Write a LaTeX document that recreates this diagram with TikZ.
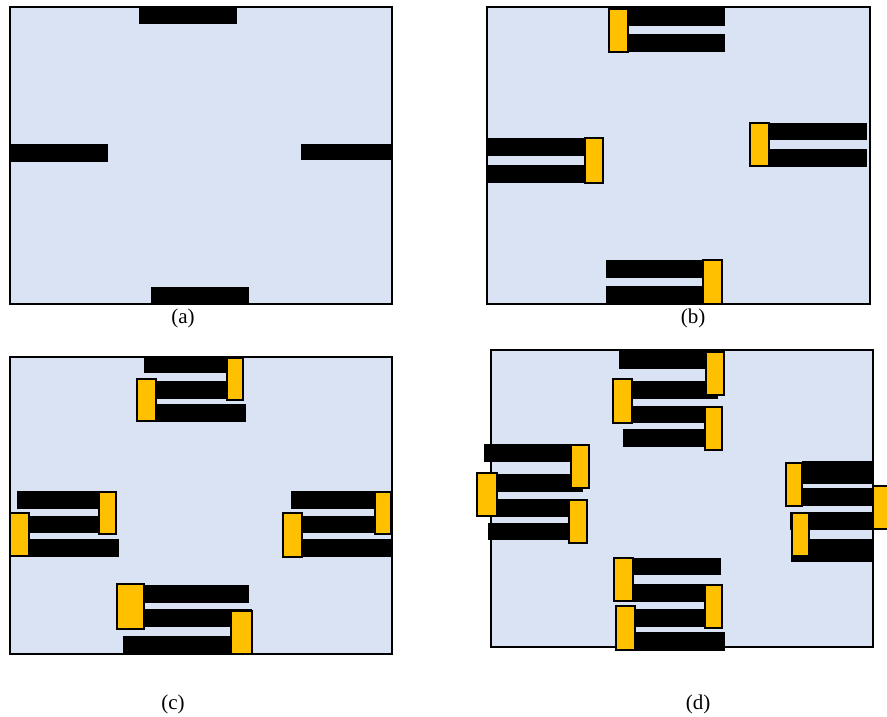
\documentclass[tikz,border=0pt]{standalone}
\usepackage{fontspec}
\setmainfont{Liberation Serif}
\definecolor{boardblue}{HTML}{DAE3F3}
\definecolor{padyellow}{HTML}{FFC000}
\tikzset{
  board/.style={draw=black, fill=boardblue, line width=1.6pt},
  bar/.style={fill=black},
  pad/.style={draw=black, fill=padyellow, line width=1.2pt},
  caption/.style={font=\fontsize{21}{24}\selectfont, inner sep=0pt}
}

\begin{document}
\begin{tikzpicture}[x=1pt, y=-1pt]
    \useasboundingbox (0,0) rectangle (887,717);
    % (a) bare board
    \draw[board] (10,7) rectangle (392,304);
    \foreach \xa/\ya/\xb/\yb in {139/7/237/24, 10/144/108/162, 301/144/392/160, 151/287/249/305}
      \fill[bar] (\xa,\ya) rectangle (\xb,\yb);
    \node[caption] (capa) at (183,318) {(a)};
    % (b) one pad per port
    \draw[board] (487,7) rectangle (870,304);
    \foreach \xa/\ya/\xb/\yb in {628/7/725/26, 628/34/725/52,
        487/138/585/156, 487/165/585/183,
        769/123/867/140, 769/149/867/167,
        606/260/703/278, 606/286/703/304}
      \fill[bar] (\xa,\ya) rectangle (\xb,\yb);
    \foreach \xa/\ya/\xb/\yb in {609/9/628/52, 585/138/603/183, 750/123/769/166, 703/260/722/304}
      \draw[pad] (\xa,\ya) rectangle (\xb,\yb);
    \node[caption] (capb) at (693,318) {(b)};
    % (c) two pads per port
    \draw[board] (10,357) rectangle (392,654);
    \foreach \xa/\ya/\xb/\yb in {144/357/227/373, 155/381/244/399, 156/404/246/422,
        17/491/100/509, 28/516/117/533, 29/539/119/557,
        291/491/376/509, 302/516/392/533, 302/539/392/557,
        144/585/249/603, 144/609/252/627, 123/636/231/654}
      \fill[bar] (\xa,\ya) rectangle (\xb,\yb);
    \foreach \xa/\ya/\xb/\yb in {227/358/243/400, 137/379/156/421,
        99/492/116/534, 10/513/29/556,
        375/492/391/534, 283/513/302/557,
        117/584/144/629, 231/611/252/654}
      \draw[pad] (\xa,\ya) rectangle (\xb,\yb);
    \node[caption] (capc) at (173,704) {(c)};
    % (d) three pads per port
    \draw[board] (491,350) rectangle (873,647);
    \foreach \xa/\ya/\xb/\yb in {619/350/707/369, 630/381/718/399, 632/406/722/423, 623/429/705/447,
        484/444/570/462, 495/474/583/492, 497/499/572/517, 488/523/569/540,
        802/461/873/484, 802/488/873/506, 790/512/873/530, 791/539/873/562,
        633/558/721/575, 633/584/722/602, 633/609/722/627, 635/632/725/651}
      \fill[bar] (\xa,\ya) rectangle (\xb,\yb);
    \foreach \xa/\ya/\xb/\yb in {706/352/724/395, 613/379/632/423, 705/407/722/450,
        571/445/589/488, 477/473/497/516, 569/500/587/543,
        786/463/802/506, 873/486/888/529, 792/513/809/556,
        614/558/633/601, 705/585/722/628, 616/606/635/650}
      \draw[pad] (\xa,\ya) rectangle (\xb,\yb);
    \node[caption] (capd) at (698,704) {(d)};
\end{tikzpicture}
\end{document}
